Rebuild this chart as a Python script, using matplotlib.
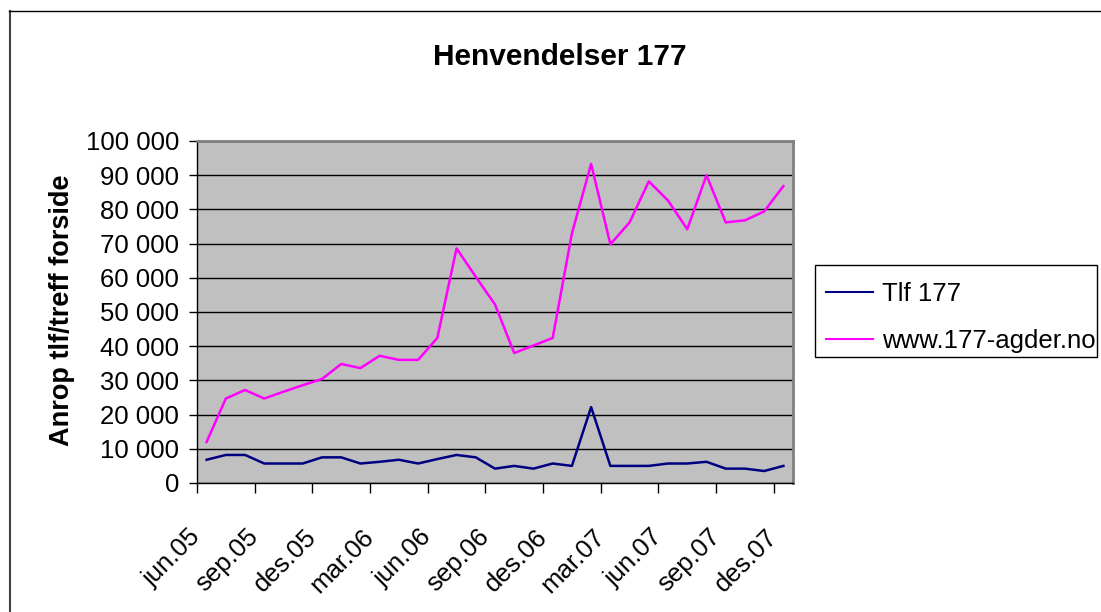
import matplotlib
matplotlib.use("Agg")
import matplotlib.pyplot as plt
from matplotlib.ticker import FuncFormatter, MultipleLocator, FixedLocator
from matplotlib.transforms import ScaledTranslation
from matplotlib.lines import Line2D
from matplotlib.patches import Rectangle

plt.rcParams['font.family'] = ['Liberation Sans', 'DejaVu Sans']

months = ["jun.05", "jul.05", "aug.05", "sep.05", "okt.05", "nov.05", "des.05",
          "jan.06", "feb.06", "mar.06", "apr.06", "mai.06", "jun.06", "jul.06",
          "aug.06", "sep.06", "okt.06", "nov.06", "des.06", "jan.07", "feb.07",
          "mar.07", "apr.07", "mai.07", "jun.07", "jul.07", "aug.07", "sep.07",
          "okt.07", "nov.07", "des.07"]

tlf_177 = [6800, 8200, 8200, 5700, 5700, 5700, 7500, 7500, 5700, 6200, 6800,
           5700, 7000, 8200, 7500, 4200, 5000, 4200, 5700, 5000, 22200, 5000,
           5000, 5000, 5700, 5700, 6200, 4200, 4200, 3500, 5000]

web_177 = [12000, 24700, 27200, 24700, 26700, 28600, 30400, 34800, 33600, 37200,
           36000, 36000, 42400, 68600, 60300, 52200, 38000, 40200, 42400, 73000,
           93300, 69800, 76200, 88200, 82600, 74200, 90000, 76200, 76800, 79400,
           86800]

series_names = ["Tlf 177", "www.177-agder.no"]
title = "Henvendelser 177"
ylabel = "Anrop tlf/treff forside"

W, H = 1101, 612
fig = plt.figure(figsize=(W / 100, H / 100), dpi=100)
fig.patch.set_facecolor("white")

L, R, T, B = 197, 793, 141, 483
ax = fig.add_axes([L / W, 1 - B / H, (R - L) / W, (B - T) / H])
ax.set_facecolor("#C0C0C0")

x = list(range(len(months)))
ax.plot(x, tlf_177, color="#000080", lw=1.8, label=series_names[0], zorder=3)
ax.plot(x, web_177, color="#FF00FF", lw=1.8, label=series_names[1], zorder=3)

ax.set_xlim(-0.5, len(months) - 0.5)
ax.set_ylim(0, 100000)

ax.yaxis.set_major_locator(MultipleLocator(10000))
ax.yaxis.set_major_formatter(FuncFormatter(lambda v, p: f"{int(v):,}".replace(",", " ")))
ax.grid(axis="y", color="black", lw=1)
ax.set_axisbelow(True)

FS = 18.5
label_idx = list(range(0, len(months), 3))
ax.set_xticks(label_idx)
ax.set_xticklabels([months[i] for i in label_idx], rotation=45, ha="right",
                   va="top", rotation_mode="anchor")
ax.xaxis.set_minor_locator(FixedLocator([i - 0.5 for i in label_idx]))
ax.tick_params(axis="x", which="major", length=0, pad=30, labelsize=FS)
ax.tick_params(axis="x", which="minor", length=7, width=1, direction="out", color="black")
ax.tick_params(axis="y", length=6, width=1, direction="out", pad=7, labelsize=FS, color="black")

offset = ScaledTranslation(-18 / 100, 0, fig.dpi_scale_trans)
for lab in ax.get_xticklabels():
    lab.set_transform(lab.get_transform() + offset)

for s in ["top", "right"]:
    ax.spines[s].set_color("#808080")
    ax.spines[s].set_linewidth(2)
for s in ["left", "bottom"]:
    ax.spines[s].set_color("black")
    ax.spines[s].set_linewidth(1)

ax.set_ylabel(ylabel, fontsize=19.5, fontweight="bold")
ax.yaxis.set_label_coords(-0.205, 0.506)

fig.text(560 / W, 1 - 65 / H, title, ha="center", va="baseline",
         fontsize=21.5, fontweight="bold")

leg = ax.legend(loc="upper left", bbox_to_anchor=(814 / W, 1 - 270 / H),
                bbox_transform=fig.transFigure, borderaxespad=0, frameon=False,
                fontsize=FS, handlelength=1.85, handletextpad=0.35,
                labelspacing=0.9, borderpad=0.45)
for h in leg.get_lines():
    h.set_linewidth(1.5)

fig.add_artist(Rectangle((814.5 / W, 1 - 357 / H), (1097 - 814.5) / W, (357 - 265) / H,
                         transform=fig.transFigure, facecolor="none",
                         edgecolor="black", lw=1))

fig.add_artist(Line2D([9.5 / W, 9.5 / W], [0, 1 - 11 / H], transform=fig.transFigure,
                      color="#404040", lw=1.5))
fig.add_artist(Line2D([9 / W, 1], [1 - 11 / H, 1 - 11 / H], transform=fig.transFigure,
                      color="black", lw=1))

fig.savefig("out.png", dpi=100, facecolor="white")
